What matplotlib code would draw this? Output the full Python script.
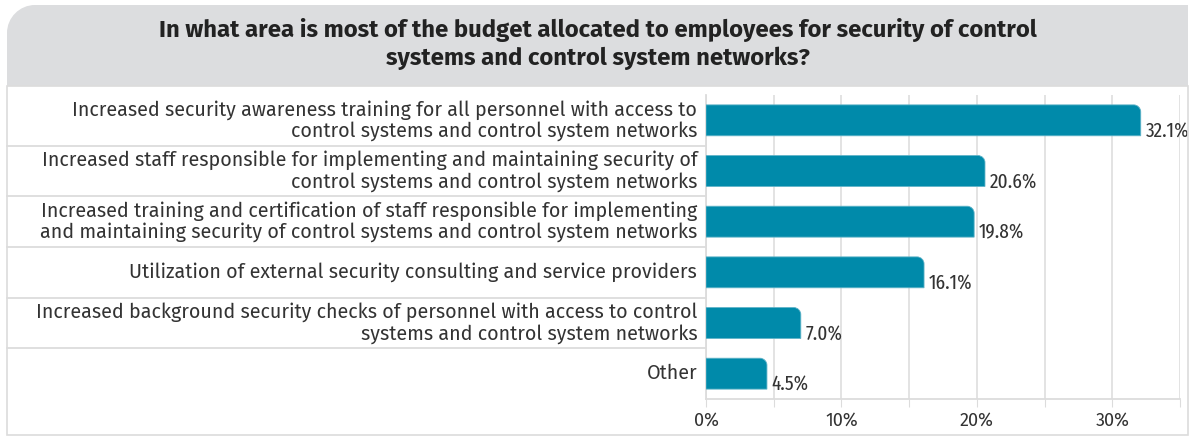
import matplotlib.pyplot as plt
from matplotlib.path import Path
from matplotlib.patches import PathPatch
import matplotlib.patches as mpatches

TITLE = ('In what area is most of the budget allocated to employees for security of control\n'
         'systems and control system networks?')

categories = [
    'Increased security awareness training for all personnel with access to\n'
    'control systems and control system networks',
    'Increased staff responsible for implementing and maintaining security of\n'
    'control systems and control system networks',
    'Increased training and certification of staff responsible for implementing\n'
    'and maintaining security of control systems and control system networks',
    'Utilization of external security consulting and service providers',
    'Increased background security checks of personnel with access to control\n'
    'systems and control system networks',
    'Other',
]
values = [32.1, 20.6, 19.8, 16.1, 7.0, 4.5]
ticks = [0, 10, 20, 30]
tick_labels = ['0%', '10%', '20%', '30%']

BAR = '#008aaa'
TEXT = '#333333'
LINE = '#dcdcdc'
W, H = 1196, 437

plt.rcParams['font.family'] = ['Fira Sans', 'Open Sans', 'DejaVu Sans']
NARROW = ['Fira Sans Extra Condensed', 'DejaVu Sans']


def fx(px):
    return px / W


def fy(py):
    return 1 - py / H


def rounded_bar(ax, rect, r_px=7):
    # replace a barh rectangle by one with a rounded top-right corner
    x0, y0 = rect.get_x(), rect.get_y()
    x1, y1 = x0 + rect.get_width(), y0 + rect.get_height()
    a = ax.transData.transform([(0, 0), (1, 1)])
    rx = r_px / abs(a[1][0] - a[0][0])
    ry = r_px / abs(a[1][1] - a[0][1])
    # axis is inverted: y0 is the top edge on screen
    k = 0.55
    verts = [(x0, y1), (x0, y0), (x1 - rx, y0),
             (x1 - rx + rx * k, y0), (x1, y0 + ry - ry * k), (x1, y0 + ry),
             (x1, y1), (x0, y1)]
    codes = [Path.MOVETO, Path.LINETO, Path.LINETO,
             Path.CURVE4, Path.CURVE4, Path.CURVE4,
             Path.LINETO, Path.CLOSEPOLY]
    p = PathPatch(Path(verts, codes), facecolor=BAR, edgecolor='#5fb3c8',
                  linewidth=0.6, zorder=3)
    ax.add_patch(p)
    rect.set_visible(False)


fig = plt.figure(figsize=(W / 100, H / 100), dpi=100)

# outer frame with grey header, top-left corner rounded
r = 28
fl, fr, ft, fb, hb = 7, 1188, 5, 435, 86
hverts = [(fl, hb), (fl, ft + r), (fl, ft + r * 0.45), (fl + r * 0.45, ft), (fl + r, ft),
          (fr, ft), (fr, hb), (fl, hb)]
hcodes = [Path.MOVETO, Path.LINETO, Path.CURVE4, Path.CURVE4, Path.CURVE4,
          Path.LINETO, Path.LINETO, Path.CLOSEPOLY]
header = PathPatch(Path([(fx(a), fy(b)) for a, b in hverts], hcodes),
                   facecolor='#dcdddf', edgecolor='none', transform=fig.transFigure)
fig.patches.append(header)
frame = mpatches.Rectangle((fx(fl), fy(fb)), fx(fr - fl), (fb - hb) / H,
                           facecolor='none', edgecolor=LINE, linewidth=1.2,
                           transform=fig.transFigure)
fig.patches.append(frame)

fig.text(0.5, fy(44), TITLE, ha='center', va='center', fontsize=17.2,
         fontweight='bold', color='#222222', linespacing=1.2)

ax_l, ax_r, ax_t, ax_b = 706, 1180, 95, 399
ax = fig.add_axes([fx(ax_l), fy(ax_b), fx(ax_r - ax_l), (ax_b - ax_t) / H])
ax.set_facecolor('none')

y = list(range(len(categories)))
bars = ax.barh(y, values, height=0.61, color=BAR, zorder=3)
ax.set_xlim(0, 35)
ax.set_ylim(len(categories) - 0.5, -0.5)

for rect in bars:
    rounded_bar(ax, rect)

for rect, v in zip(bars, values):
    ax.annotate(f'{v:.1f}%', (rect.get_width(), rect.get_y() + rect.get_height()),
                xytext=(3.5, -0.5), textcoords='offset points', ha='left', va='baseline',
                fontsize=15, color=TEXT, zorder=4, family=NARROW)

ax.set_xticks(list(range(0, 36, 5)), minor=False)
ax.set_xticklabels(['' if t not in ticks else tick_labels[ticks.index(t)]
                    for t in range(0, 36, 5)])
ax.grid(axis='x', color='#e0e0e0', linewidth=1.3, zorder=0)
ax.tick_params(axis='x', length=6, color=LINE, labelsize=13, labelcolor=TEXT, pad=3)
ax.tick_params(axis='y', length=0)
ax.set_yticks([])
for s in ['top', 'right']:
    ax.spines[s].set_visible(False)
ax.spines['bottom'].set_color(LINE)
ax.spines['bottom'].set_linewidth(1.3)
ax.spines['left'].set_color(LINE)
ax.spines['left'].set_linewidth(1.3)

# category labels in cells at the left
for i, lab in enumerate(categories):
    ax.text(-0.65, i, lab, transform=ax.transData, ha='right', va='center',
            fontsize=14.2, color=TEXT, linespacing=1.1, clip_on=False)
    if i < len(categories) - 1:
        ax.plot([-ax_l / 13.54 + fl / 13.54, 0], [i + 0.5, i + 0.5], color=LINE,
                linewidth=1.3, clip_on=False, zorder=2)

fig.savefig('out.png', dpi=100)
